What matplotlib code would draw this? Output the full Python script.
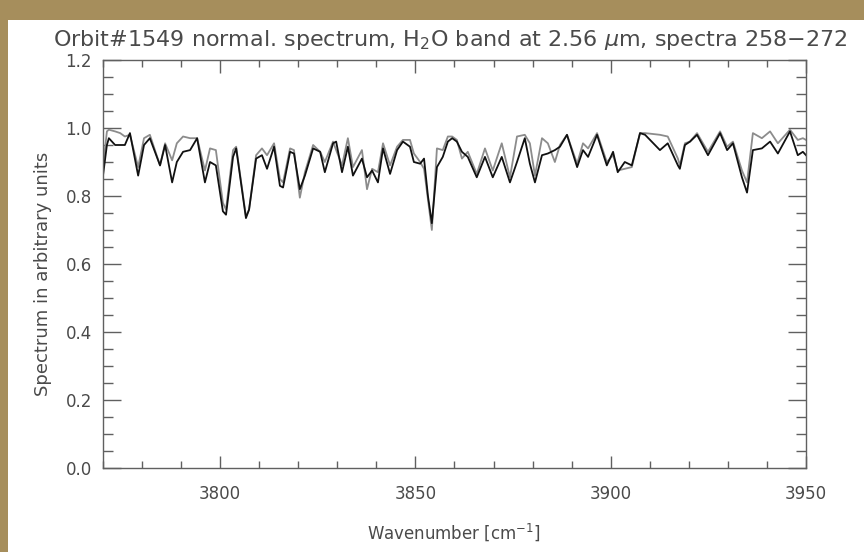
import matplotlib
matplotlib.use("Agg")
import matplotlib.pyplot as plt
from matplotlib.ticker import MultipleLocator, FormatStrFormatter

# wavenumber grid [cm^-1] and the two normalised spectra
wn = [3770.0, 3771.0, 3771.5, 3773.1, 3774.4, 3775.6, 3776.9, 3779.0, 3780.5, 3782.0,
      3784.6, 3785.9, 3787.7, 3788.9, 3790.5, 3792.3, 3794.1, 3796.1, 3797.4, 3798.9,
      3800.7, 3801.5, 3803.3, 3804.1, 3806.6, 3807.4, 3809.2, 3810.7, 3812.0, 3813.8,
      3815.3, 3816.1, 3817.9, 3818.9, 3820.4, 3821.7, 3823.8, 3825.6, 3826.8, 3828.9,
      3829.7, 3831.2, 3832.7, 3834.0, 3836.3, 3837.6, 3838.9, 3840.4, 3841.7, 3843.5,
      3845.3, 3846.8, 3848.6, 3849.6, 3851.2, 3852.2, 3853.2, 3854.2, 3855.5, 3857.0,
      3858.3, 3859.4, 3860.6, 3861.9, 3863.4, 3865.7, 3867.8, 3869.8, 3872.1, 3874.2,
      3876.0, 3878.0, 3879.3, 3880.6, 3882.4, 3883.9, 3885.7, 3887.0, 3888.8, 3891.4,
      3892.9, 3894.2, 3896.5, 3899.0, 3900.6, 3901.8, 3903.6, 3905.4, 3907.5, 3908.8,
      3912.6, 3914.6, 3917.2, 3917.7, 3919.0, 3920.3, 3922.1, 3924.9, 3928.0, 3929.8,
      3931.3, 3933.6, 3934.9, 3936.4, 3938.7, 3940.8, 3942.8, 3945.9, 3947.9, 3949.2,
      3950.0]

spec_black = [0.86, 0.95, 0.97, 0.95, 0.95, 0.95, 0.985, 0.86, 0.95, 0.97,
              0.89, 0.95, 0.84, 0.90, 0.93, 0.935, 0.97, 0.84, 0.90, 0.89,
              0.755, 0.745, 0.915, 0.94, 0.735, 0.76, 0.91, 0.92, 0.88, 0.945,
              0.83, 0.825, 0.93, 0.925, 0.82, 0.86, 0.94, 0.93, 0.87, 0.955,
              0.96, 0.87, 0.945, 0.86, 0.91, 0.855, 0.875, 0.84, 0.94, 0.865,
              0.935, 0.96, 0.945, 0.90, 0.895, 0.91, 0.80, 0.72, 0.885, 0.915,
              0.96, 0.97, 0.96, 0.93, 0.915, 0.855, 0.915, 0.855, 0.915, 0.84,
              0.90, 0.97, 0.895, 0.84, 0.92, 0.925, 0.935, 0.945, 0.98, 0.885,
              0.935, 0.915, 0.98, 0.89, 0.93, 0.87, 0.90, 0.89, 0.985, 0.98,
              0.935, 0.955, 0.89, 0.88, 0.95, 0.96, 0.98, 0.92, 0.985, 0.935,
              0.955, 0.855, 0.81, 0.935, 0.94, 0.96, 0.925, 0.99, 0.92, 0.93,
              0.92]

spec_gray = [0.885, 0.99, 0.995, 0.99, 0.985, 0.975, 0.98, 0.885, 0.97, 0.98,
             0.89, 0.955, 0.905, 0.955, 0.975, 0.97, 0.97, 0.875, 0.94, 0.935,
             0.78, 0.76, 0.935, 0.945, 0.74, 0.76, 0.92, 0.94, 0.92, 0.955,
             0.85, 0.84, 0.94, 0.935, 0.795, 0.87, 0.95, 0.93, 0.90, 0.96,
             0.935, 0.89, 0.97, 0.885, 0.935, 0.82, 0.88, 0.87, 0.955, 0.89,
             0.945, 0.965, 0.965, 0.925, 0.90, 0.88, 0.79, 0.70, 0.94, 0.935,
             0.975, 0.975, 0.965, 0.91, 0.93, 0.865, 0.94, 0.875, 0.955, 0.855,
             0.975, 0.98, 0.955, 0.86, 0.97, 0.955, 0.90, 0.95, 0.98, 0.895,
             0.955, 0.94, 0.985, 0.90, 0.92, 0.875, 0.88, 0.885, 0.985, 0.985,
             0.98, 0.975, 0.91, 0.89, 0.955, 0.96, 0.985, 0.93, 0.99, 0.945,
             0.96, 0.875, 0.84, 0.985, 0.97, 0.99, 0.955, 0.995, 0.965, 0.97,
             0.965]

title = "Orbit#1549 normal. spectrum, H$_2$O band at 2.56 $\\mu$m, spectra 258$-$272"
txt_col = "#4a4a4a"
axis_col = "#606060"

fig = plt.figure(figsize=(8.64, 5.52), dpi=100)
fig.patch.set_facecolor("#a68e5c")

# white panel sitting on the golden background
bg = fig.add_axes([8 / 864, 0, 1 - 8 / 864, 1 - 20 / 552], zorder=-1)
bg.set_facecolor("white")
bg.set_axis_off()
bg.patch.set_visible(True)
bg.add_patch(plt.Rectangle((0, 0), 1, 1, transform=bg.transAxes,
                           facecolor="white", edgecolor="none"))

ax = fig.add_axes([103 / 864, 1 - 468 / 552, 703 / 864, 408 / 552])
ax.patch.set_alpha(0)
ax.plot(wn, spec_gray, color="#8c8c8c", lw=1.3)
ax.plot(wn, spec_black, color="#111111", lw=1.3)

ax.set_xlim(3770, 3950)
ax.set_ylim(0, 1.2)
ax.xaxis.set_major_locator(MultipleLocator(50))
ax.xaxis.set_minor_locator(MultipleLocator(10))
ax.yaxis.set_major_locator(MultipleLocator(0.2))
ax.yaxis.set_minor_locator(MultipleLocator(0.05))
ax.yaxis.set_major_formatter(FormatStrFormatter("%.1f"))

ax.tick_params(which="both", direction="in", top=True, right=True,
               color=axis_col, width=1.0, labelcolor=txt_col, labelsize=12)
ax.tick_params(axis="x", which="major", length=9, pad=12)
ax.tick_params(axis="x", which="minor", length=5)
ax.tick_params(axis="y", which="major", length=13, pad=8)
ax.tick_params(axis="y", which="minor", length=7)
for s in ax.spines.values():
    s.set_color(axis_col)
    s.set_linewidth(1.0)

fig.text(450 / 864, 1 - 40 / 552, title, ha="center", va="center",
         fontsize=16, color=txt_col)
fig.text(454 / 864, 1 - 532 / 552, "Wavenumber [cm$^{-1}$]", ha="center",
         va="center", fontsize=12, color=txt_col)
fig.text(43 / 864, 1 - 274 / 552, "Spectrum in arbitrary units", ha="center",
         va="center", rotation=90, fontsize=13, color=txt_col)

fig.savefig("out.png", dpi=100, facecolor=fig.get_facecolor())
